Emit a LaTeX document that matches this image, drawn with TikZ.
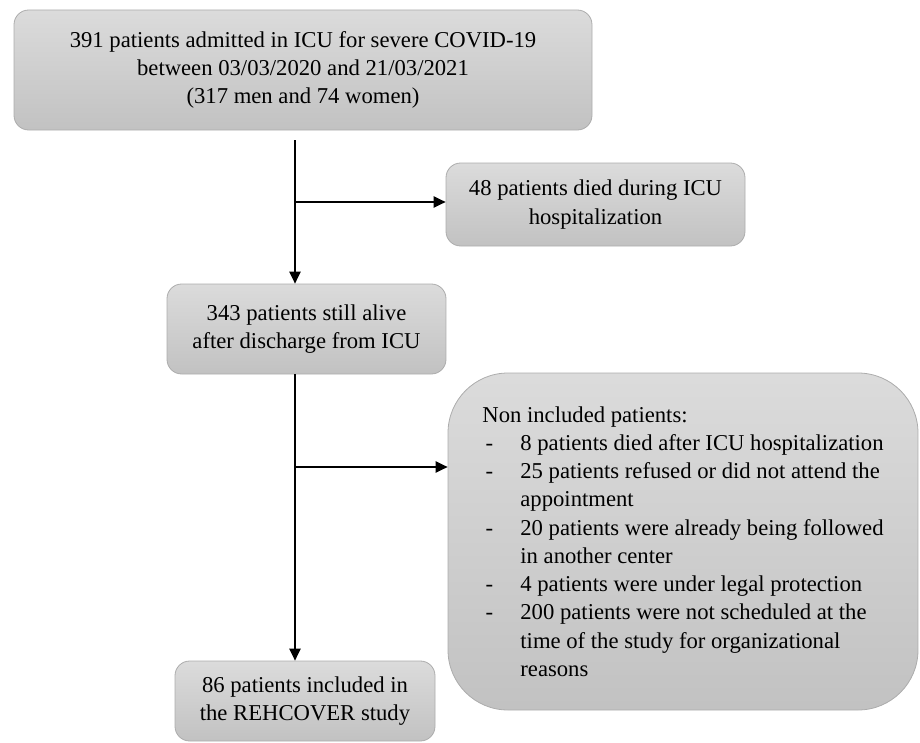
\documentclass[tikz,border=0pt]{standalone}
\usepackage{fontspec}
\setmainfont{Liberation Serif}
\usetikzlibrary{arrows.meta}
\newcommand{\dashitem}{\makebox[28.5pt][l]{\hspace{2.5pt}-}}
\newcommand{\indentitem}{\hspace*{28.5pt}}
\begin{document}
\begin{tikzpicture}[x=0.75pt,y=-0.75pt,->,>={Triangle[length=9pt,width=8.5pt]},line width=1pt,
    box/.style={draw=gray!65,line width=0.6pt,rounded corners=11pt,top color=gray!28,bottom color=gray!48,align=center,inner sep=0pt,font=\fontsize{17}{21.2}\selectfont}]
    \useasboundingbox (0,0) rectangle (920,742);
    \node[box,minimum width=433.5pt,minimum height=90pt] (admitted) at (303,70) {391 patients admitted in ICU for severe COVID-19\\between 03/03/2020 and 21/03/2021\\(317 men and 74 women)};
    \node[box,minimum width=224.25pt,minimum height=62.25pt] (died) at (595.5,204.5) {48 patients died during ICU\\hospitalization};
    \node[box,minimum width=209.25pt,minimum height=67.5pt] (alive) at (306.5,329) {343 patients still alive\\after discharge from ICU};
    \node[box,rounded corners=45pt,align=left,minimum width=352.5pt,minimum height=252.75pt] (excluded) at (683,541.5) {Non included patients:\\
        \dashitem 8 patients died after ICU hospitalization\\
        \dashitem 25 patients refused or did not attend the\\
        \indentitem appointment\\
        \dashitem 20 patients were already being followed\\
        \indentitem in another center\\
        \dashitem 4 patients were under legal protection\\
        \dashitem 200 patients were not scheduled at the\\
        \indentitem time of the study for organizational\\
        \indentitem reasons};
    \node[box,minimum width=195pt,minimum height=60pt] (included) at (305,701) {86 patients included in\\the REHCOVER study};

    \coordinate (split1) at (295,140);
    \coordinate (branch1) at (295,202);
    \coordinate (branch2) at (295,467);
    \draw (split1) -- (split1 |- alive.north);
    \draw (branch1) -- (branch1 -| died.west);
    \draw (split1 |- alive.south) -- (split1 |- included.north);
    \draw (branch2) -- (branch2 -| excluded.west);
\end{tikzpicture}
\end{document}
